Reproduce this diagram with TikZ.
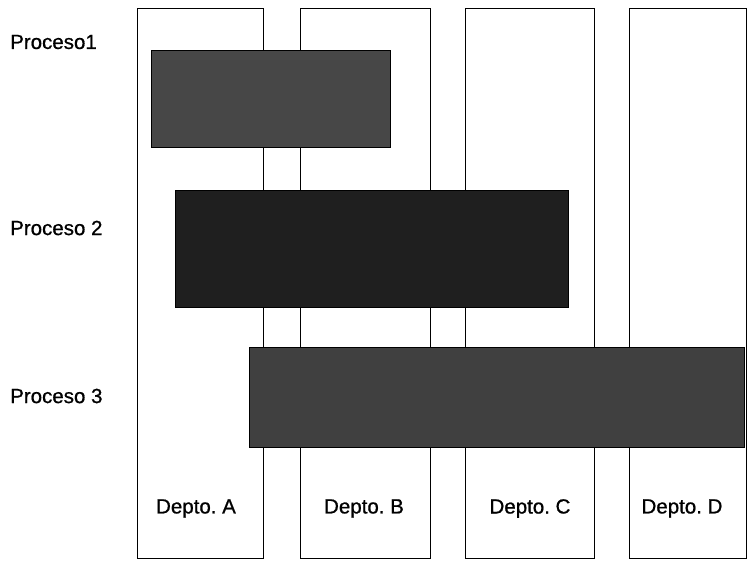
\documentclass[tikz,border=0pt]{standalone}
\usepackage{fontspec}
\setmainfont{Liberation Sans}
\newfontfamily\lblfont[FakeBold=0.8]{Liberation Sans}
\usepackage{tikz}
\usetikzlibrary{positioning}
\frenchspacing

\begin{document}
\begin{tikzpicture}[x=1pt, y=-1pt,
  dept/.style={draw, line width=1.3pt, anchor=north west, inner sep=0pt, minimum height=550pt},
  procbar/.style={draw, line width=1.3pt, anchor=north west, inner sep=0pt},
  lbl/.style={font=\lblfont\fontsize{20.5}{24}\selectfont, inner sep=0pt}]
  \useasboundingbox (0,0) rectangle (748,562);
  % departamentos
  \node[dept, minimum width=126pt](colA) at (137,8){};
  \node[dept, minimum width=130pt](colB) at (300,8){};
  \node[dept, minimum width=129pt](colC) at (465,8){};
  \node[dept, minimum width=117pt](colD) at (629,8){};
  \foreach \c/\t/\x in {colA/A/196,colB/B/364,colC/C/530,colD/D/682}{
    \node[lbl](t\c) at (\x,508.5){Depto. \t};}
  % procesos
  \node[procbar, fill=black!72, minimum width=239pt, minimum height=97pt](bar1) at (151,50){};
  \node[procbar, fill=black!88, minimum width=393pt, minimum height=117pt](bar2) at (175,190){};
  \node[procbar, fill=black!75, minimum width=495pt, minimum height=100pt](bar3) at (249,347){};
  \node[lbl, anchor=west](p1) at (10,42){Proceso1};
  \node[lbl, anchor=west](p2) at (10,228){Proceso 2};
  \node[lbl, anchor=west](p3) at (10,396){Proceso 3};
\end{tikzpicture}
\end{document}
